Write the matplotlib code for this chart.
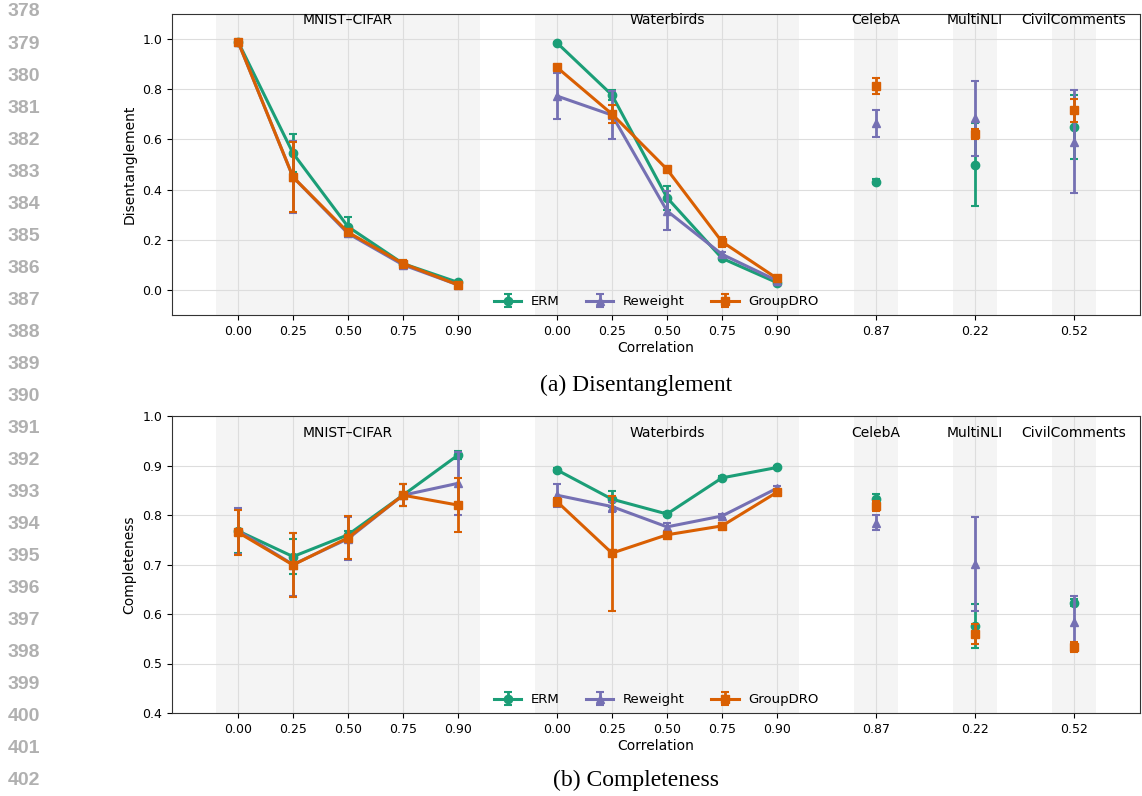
import matplotlib
matplotlib.use("Agg")
import matplotlib.pyplot as plt
import numpy as np

# x layout: 5 MNIST-CIFAR points, 5 Waterbirds points, then 3 single datasets
mnist_labels = ["0.00", "0.25", "0.50", "0.75", "0.90"]
wb_labels = ["0.00", "0.25", "0.50", "0.75", "0.90"]
single_names = ["CelebA", "MultiNLI", "CivilComments"]
single_labels = ["0.87", "0.22", "0.52"]
methods = ["ERM", "Reweight", "GroupDRO"]
colors = ["#1b9e77", "#7570b3", "#d95f02"]
markers = ["o", "^", "s"]

# ---- disentanglement (mean, err) ----
dis_mnist = [[0.99, 0.545, 0.252, 0.105, 0.030],
             [0.99, 0.450, 0.225, 0.100, 0.020],
             [0.99, 0.450, 0.230, 0.105, 0.020]]
dis_mnist_err = [[0.005, 0.075, 0.040, 0.015, 0.005],
                 [0.005, 0.145, 0.012, 0.015, 0.005],
                 [0.005, 0.140, 0.012, 0.015, 0.005]]
dis_wb = [[0.985, 0.777, 0.368, 0.126, 0.029],
          [0.773, 0.697, 0.315, 0.142, 0.037],
          [0.887, 0.701, 0.481, 0.192, 0.046]]
dis_wb_err = [[0.004, 0.020, 0.048, 0.008, 0.004],
              [0.090, 0.097, 0.078, 0.010, 0.005],
              [0.010, 0.035, 0.005, 0.020, 0.006]]
dis_single = [[0.432, 0.500, 0.648],
              [0.664, 0.684, 0.591],
              [0.813, 0.620, 0.717]]
dis_single_err = [[0.010, 0.165, 0.128],
                  [0.055, 0.150, 0.205],
                  [0.031, 0.020, 0.046]]

# ---- completeness (mean, err) ----
com_mnist = [[0.768, 0.716, 0.760, 0.840, 0.921],
             [0.768, 0.700, 0.752, 0.840, 0.864],
             [0.765, 0.699, 0.754, 0.840, 0.820]]
com_mnist_err = [[0.045, 0.035, 0.008, 0.022, 0.008],
                 [0.047, 0.063, 0.043, 0.022, 0.063],
                 [0.045, 0.065, 0.043, 0.022, 0.055]]
com_wb = [[0.891, 0.832, 0.802, 0.875, 0.896],
          [0.840, 0.817, 0.776, 0.798, 0.854],
          [0.827, 0.723, 0.760, 0.778, 0.846]]
com_wb_err = [[0.004, 0.016, 0.004, 0.004, 0.004],
              [0.023, 0.010, 0.008, 0.005, 0.005],
              [0.008, 0.116, 0.005, 0.005, 0.005]]
com_single = [[0.832, 0.576, 0.623],
              [0.784, 0.701, 0.584],
              [0.818, 0.560, 0.533]]
com_single_err = [[0.010, 0.044, 0.007],
                  [0.015, 0.095, 0.052],
                  [0.010, 0.020, 0.010]]

gap = 1.8
x_mnist = np.arange(5)
x_wb = np.arange(5) + 4 + gap
x_single = x_wb[-1] + gap * np.arange(1, 4)


def panel(ax, mnist, mnist_err, wb, wb_err, single, single_err, ylabel, ylim, yticks, label_y):
    # shaded blocks
    for lo, hi in [(x_mnist[0], x_mnist[-1]), (x_wb[0], x_wb[-1])] + [(x, x) for x in x_single]:
        ax.axvspan(lo - 0.4, hi + 0.4, color="#f4f4f4", zorder=0, lw=0)
    handles = []
    for i, m in enumerate(methods):
        kw = dict(color=colors[i], marker=markers[i], ms=6, lw=2.2, capsize=3,
                  elinewidth=2, capthick=1.5, zorder=3 + i)
        h = ax.errorbar(x_mnist, mnist[i], yerr=mnist_err[i], label=m, **kw)
        ax.errorbar(x_wb, wb[i], yerr=wb_err[i], **kw)
        kw["ls"] = "none"
        ax.errorbar(x_single, single[i], yerr=single_err[i], **kw)
        handles.append(h)
    ax.set_xlim(-1.2, x_single[-1] + 1.2)
    ax.set_ylim(*ylim)
    ax.set_yticks(yticks)
    ax.set_xticks(np.concatenate([x_mnist, x_wb, x_single]))
    ax.set_xticklabels(mnist_labels + wb_labels + single_labels)
    ax.grid(True, color="#dddddd", lw=0.8, zorder=1)
    ax.set_axisbelow(True)
    ax.tick_params(labelsize=9)
    ax.set_xlabel("Correlation", fontsize=10, labelpad=2)
    ax.set_ylabel(ylabel, fontsize=10)
    centers = [x_mnist.mean(), x_wb.mean()] + list(x_single)
    for c, name in zip(centers, ["MNIST\u2013CIFAR", "Waterbirds"] + single_names):
        ax.text(c, label_y, name, ha="center", va="center", fontsize=10,
                transform=ax.get_xaxis_transform())
    for s in ax.spines.values():
        s.set_color("#333333")
    ax.legend(handles=handles, loc="lower center", ncol=3, frameon=False,
              fontsize=9.5, borderaxespad=0.1, columnspacing=2.0, handlelength=2.1,
              handletextpad=0.7)


fig = plt.figure(figsize=(11.42, 7.96), dpi=100)
ax1 = fig.add_axes([172 / 1142, 1 - 315 / 796, 968 / 1142, 301 / 796])
ax2 = fig.add_axes([172 / 1142, 1 - 713 / 796, 968 / 1142, 297 / 796])

panel(ax1, dis_mnist, dis_mnist_err, dis_wb, dis_wb_err, dis_single, dis_single_err,
      "Disentanglement", (-0.1, 1.1), np.arange(0, 1.01, 0.2), 0.98)
panel(ax2, com_mnist, com_mnist_err, com_wb, com_wb_err, com_single, com_single_err,
      "Completeness", (0.4, 1.0), np.arange(0.4, 1.01, 0.1), 0.943)
ax1.yaxis.set_major_formatter(matplotlib.ticker.FormatStrFormatter("%.1f"))
ax2.yaxis.set_major_formatter(matplotlib.ticker.FormatStrFormatter("%.1f"))

fig.text(636 / 1142, 1 - 385 / 796, "(a) Disentanglement", ha="center", va="center",
         fontsize=17, family="Liberation Serif")
fig.text(636 / 1142, 1 - 780 / 796, "(b) Completeness", ha="center", va="center",
         fontsize=17, family="Liberation Serif")

# line numbers in the margin
for k, n in enumerate(range(378, 403)):
    fig.text(8 / 1142, 1 - (12 + k * 32.04) / 796, str(n), ha="left", va="center",
             fontsize=14, color="#b0b0b0", weight="bold", family="Liberation Sans")

fig.savefig("out.png", dpi=100)
